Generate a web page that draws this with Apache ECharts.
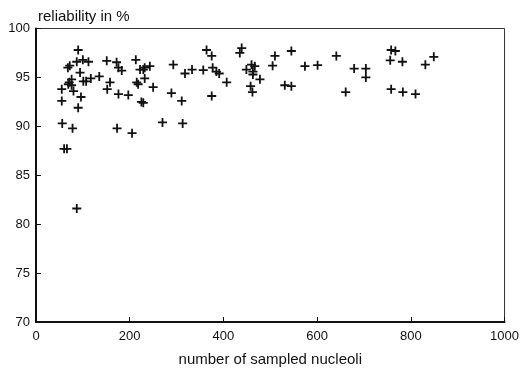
<!DOCTYPE html>
<html>
<head>
<meta charset="utf-8">
<script src="https://cdn.jsdelivr.net/npm/echarts@6/dist/echarts.min.js"></script>
<style>html,body{margin:0;padding:0;background:#fff;}#c{width:522px;height:372px;}</style>
</head>
<body>
<div id="c"></div>
<script>
var xTicks = [0, 200, 400, 600, 800, 1000];
var yTicks = [70, 75, 80, 85, 90, 95, 100];
var nucleoli = [90, 68, 72, 87, 100, 112, 76, 71, 69, 76, 55, 94, 101, 107, 117, 135, 55, 80, 96, 90, 56, 78, 60, 66,
  151, 172, 176, 183, 158, 152, 176, 197, 173, 205, 213, 222, 229, 232, 243, 215, 218, 232, 250, 225, 229, 270,
  293, 289, 311, 313, 318, 333, 357, 364, 375, 377, 385, 391, 407, 375, 439, 435, 449, 460, 467, 463, 463, 478, 458, 462,
  510, 505, 545, 574, 601, 641, 679, 704, 704, 758, 767, 756, 782, 831, 849, 531, 545, 661, 758, 783, 810, 87];
var reliability = [97.8, 96.0, 96.2, 96.6, 96.8, 96.6, 94.8, 94.5, 94.3, 94.2, 93.8, 95.5, 94.6, 94.6, 94.9, 95.1, 92.6, 93.6, 93.0, 91.9, 90.3, 89.8, 87.7, 87.7,
  96.7, 96.55, 96.0, 95.7, 94.5, 93.8, 93.3, 93.2, 89.8, 89.3, 96.8, 95.8, 95.8, 96.0, 96.15, 94.5, 94.3, 94.9, 94.0, 92.5, 92.4, 90.4,
  96.3, 93.4, 92.6, 90.3, 95.4, 95.8, 95.75, 97.8, 97.2, 96.0, 95.6, 95.4, 94.5, 93.1, 98.0, 97.5, 95.8, 96.3, 96.15, 95.6, 95.3, 94.8, 94.1, 93.5,
  97.2, 96.2, 97.7, 96.15, 96.25, 97.2, 95.9, 95.9, 95.0, 97.8, 97.7, 96.75, 96.6, 96.3, 97.1, 94.2, 94.1, 93.5, 93.8, 93.5, 93.3, 81.6];
var xTitle = 'number of sampled nucleoli';
var yTitle = 'reliability in %';

var pts = nucleoli.map(function (x, i) { return [x, reliability[i]]; });
var font = '"Liberation Sans", "DejaVu Sans", sans-serif';
var chart = echarts.init(document.getElementById('c'));
chart.setOption({
  animation: false,
  backgroundColor: '#fff',
  title: {
    text: yTitle, left: 33, top: 4,
    textStyle: { fontFamily: font, fontSize: 15, fontWeight: 'normal', color: '#111' }
  },
  grid: { left: 36, right: 17, top: 28.5, bottom: 46, show: true, borderColor: '#333', borderWidth: 1, backgroundColor: 'transparent' },
  xAxis: {
    type: 'value', min: xTicks[0], max: xTicks[xTicks.length - 1], interval: 200,
    name: xTitle, nameLocation: 'middle', nameGap: 30,
    nameTextStyle: { fontFamily: font, fontSize: 15, color: '#111' },
    axisLine: { show: true, lineStyle: { color: '#111', width: 2 } },
    axisTick: { show: true, inside: true, length: 5, lineStyle: { color: '#111' } },
    axisLabel: { fontFamily: font, fontSize: 13, color: '#111', margin: 8, formatter: function (v) { return String(v); } },
    splitLine: { show: false }
  },
  yAxis: {
    type: 'value', min: yTicks[0], max: yTicks[yTicks.length - 1], interval: 5,
    axisLine: { show: true, lineStyle: { color: '#111', width: 2 } },
    axisTick: { show: true, inside: true, length: 5, lineStyle: { color: '#111' } },
    axisLabel: { fontFamily: font, fontSize: 13, color: '#111', margin: 6 },
    splitLine: { show: false }
  },
  series: [{
    type: 'scatter',
    data: pts,
    symbol: 'path://M4,0H6V4H10V6H6V10H4V6H0V4H4Z',
    symbolSize: 9,
    itemStyle: { color: '#111', opacity: 1 }
  }]
});
</script>
</body>
</html>
